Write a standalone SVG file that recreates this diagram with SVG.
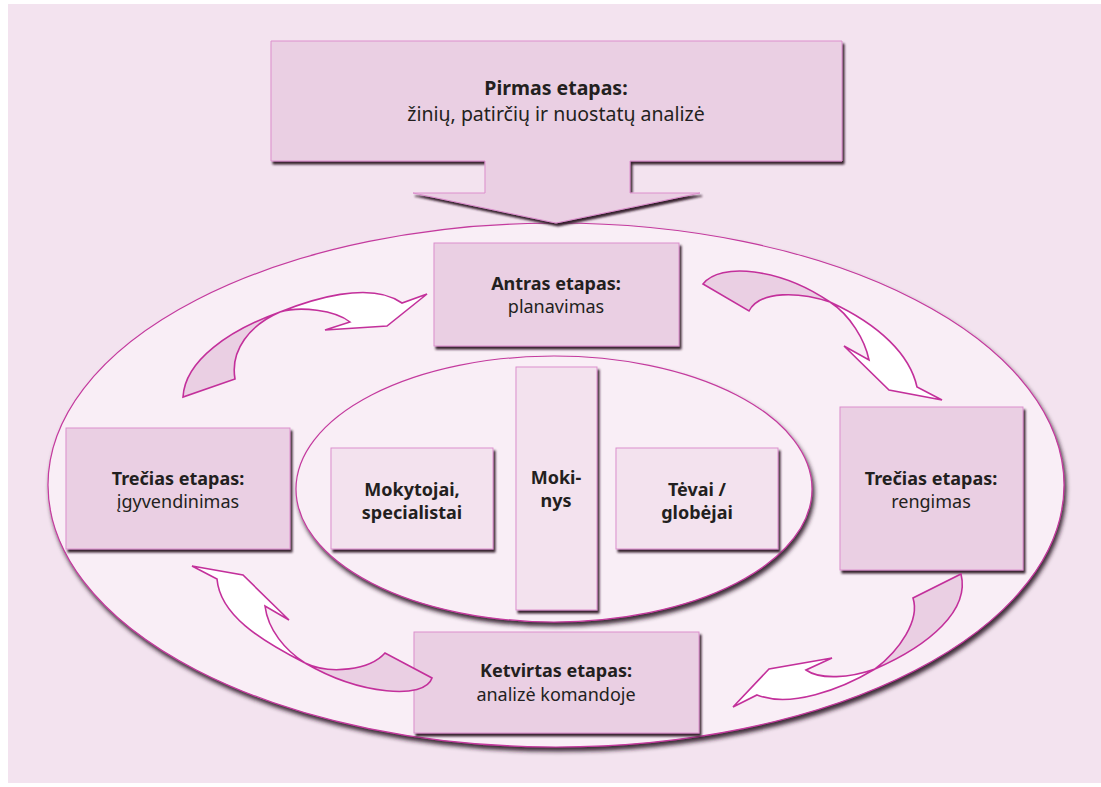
<svg xmlns="http://www.w3.org/2000/svg" width="1101" height="787" viewBox="0 0 1101 787">
<defs>
<filter id="sh" x="-10%" y="-10%" width="125%" height="130%">
<feDropShadow dx="2" dy="3" stdDeviation="1.3" flood-color="#2a1322" flood-opacity="0.95"/>
</filter>
<filter id="esh" x="-5%" y="-5%" width="110%" height="115%">
<feDropShadow dx="2" dy="4" stdDeviation="2" flood-color="#2a1322" flood-opacity="0.9"/>
</filter>
<style>
.box{fill:#eacfe3;stroke:#dc8fcd;stroke-width:1;filter:url(#sh)}
.ibox{fill:#f3e2ee;stroke:#dc8fcd;stroke-width:1;filter:url(#sh)}
.ell{fill:#f9eef6;stroke:#c43a9e;stroke-width:1.2;filter:url(#esh)}
.pk{fill:#eacfe3;stroke:#c3309b;stroke-width:1.6;stroke-linejoin:miter}
.wh{fill:#ffffff;stroke:#c3309b;stroke-width:1.6;stroke-linejoin:miter}
text{font-family:"Noto Sans","Open Sans",sans-serif;font-size:18px;fill:#231f20;text-anchor:middle}
.b{font-weight:bold}
.t{font-size:19.5px}
.i{font-size:18px}
</style>
</defs>
<rect x="8" y="4" width="1093" height="779" fill="#f3e3ef"/>
<g id="outer-ellipse"><ellipse class="ell" cx="556" cy="485" rx="508" ry="262"/></g>
<g id="inner-ellipse"><ellipse class="ell" cx="554" cy="489" rx="258" ry="133"/></g>
<g id="stage1">
<path class="box" d="M271,41 H842 V161 H630 V193 H700 L556,223 L413,193 H485 V161 H271 Z"/>
<text class="b t" x="556" y="95">Pirmas etapas:</text>
<text class="t" x="556" y="121">žinių, patirčių ir nuostatų analizė</text>
</g>
<g id="stage2">
<rect class="box" x="434" y="243" width="245" height="103"/>
<text class="b" x="556" y="290">Antras etapas:</text>
<text x="556" y="313">planavimas</text>
</g>
<g id="stage3-rengimas">
<rect class="box" x="840" y="407" width="183" height="163"/>
<text class="b" x="931" y="485">Trečias etapas:</text>
<text x="931" y="508">rengimas</text>
</g>
<g id="stage3-igyvendinimas">
<rect class="box" x="66" y="428" width="224" height="121"/>
<text class="b" x="178" y="485">Trečias etapas:</text>
<text x="178" y="508">įgyvendinimas</text>
</g>
<g id="stage4">
<rect class="box" x="414" y="632" width="285" height="101"/>
<text class="b" x="556" y="677">Ketvirtas etapas:</text>
<text x="556" y="701">analizė komandoje</text>
</g>
<g id="mokytojai">
<rect class="ibox" x="331" y="448" width="162" height="101"/>
<text class="b i" x="412" y="496">Mokytojai,</text>
<text class="b i" x="412" y="519">specialistai</text>
</g>
<g id="mokinys">
<rect class="ibox" x="516" y="367" width="81" height="243"/>
<text class="b i" x="556" y="484">Moki-</text>
<text class="b i" x="556" y="507">nys</text>
</g>
<g id="tevai">
<rect class="ibox" x="616" y="448" width="162" height="101"/>
<text class="b i" x="697" y="496">Tėvai /</text>
<text class="b i" x="697" y="519">globėjai</text>
</g>
<g id="connectors">
<path class="pk" d="M280,312 C230,330 185,360 183,397 L235,379 C230,350 250,325 280,312 Z"/>
<path class="wh" d="M280,312 C310,300 370,280 402,303 L427,294 L387,326 L325,330 L350,322 C335,310 300,306 280,312 Z"/>
<path class="pk" d="M703,284 C720,262 780,268 830,302 C800,292 760,290 749,311 Z"/>
<path class="wh" d="M830,302 C880,325 910,355 917,387 L942,400 L889,390 L844,346 L869,360 C865,340 850,315 830,302 Z"/>
<path class="pk" d="M961,574 C970,610 930,645 875,669 C900,650 920,620 913,598 Z"/>
<path class="wh" d="M875,669 C840,690 790,708 757,695 L733,707 L769,669 L832,658 L806,670 C820,680 850,678 875,669 Z"/>
<path class="wh" d="M192,566 L243,575 L289,620 L265,606 C268,630 285,650 305,663 C260,640 220,615 217,579 Z"/>
<path class="pk" d="M305,663 C330,675 370,670 385,653 L432,678 C425,700 360,695 305,663 Z"/>
</g>
</svg>
